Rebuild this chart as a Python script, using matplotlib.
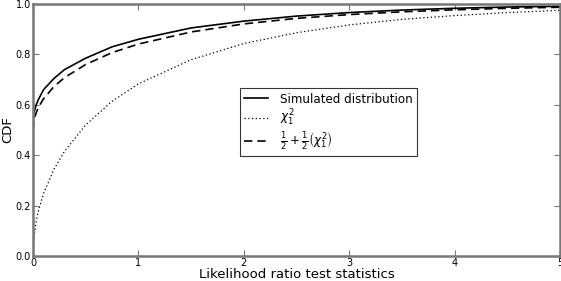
import matplotlib
matplotlib.use("Agg")
import matplotlib.pyplot as plt

# values
x_vals = [0.0, 0.01, 0.03, 0.05, 0.1, 0.2, 0.3, 0.5, 0.75, 1.0, 1.5, 2.0, 2.5, 3.0, 3.5, 4.0, 4.5, 5.0]
simulated = [0.52, 0.57, 0.60, 0.62, 0.66, 0.705, 0.74, 0.785, 0.83, 0.86, 0.905, 0.932, 0.952, 0.966, 0.976, 0.983, 0.988, 0.991]
chi2 = [0.0, 0.080, 0.137, 0.177, 0.248, 0.345, 0.416, 0.520, 0.614, 0.683, 0.779, 0.843, 0.886, 0.917, 0.939, 0.954, 0.966, 0.975]
mixture = [0.5, 0.540, 0.568, 0.589, 0.624, 0.673, 0.708, 0.760, 0.807, 0.841, 0.889, 0.921, 0.943, 0.958, 0.969, 0.977, 0.983, 0.987]

labels = ["Simulated distribution", r"$\chi_1^2$", r"$\frac{1}{2}+\frac{1}{2}\left(\chi_1^2\right)$"]
x_ticks = [0, 1, 2, 3, 4, 5]
y_ticks = [0.0, 0.2, 0.4, 0.6, 0.8, 1.0]

fig = plt.figure(figsize=(5.61, 2.81), dpi=100)
ax = fig.add_axes([33/561, 25/281, 527/561, 252/281])

ax.plot(x_vals, simulated, color="black", lw=1.2, ls="-", label=labels[0])
ax.plot(x_vals, chi2, color="black", lw=0.9, ls=(0, (1, 2)), label=labels[1])
ax.plot(x_vals, mixture, color="black", lw=1.2, ls=(0, (5, 3)), label=labels[2])

ax.set_xlim(0, 5)
ax.set_ylim(0, 1)
ax.set_xticks(x_ticks)
ax.set_xticklabels([str(t) for t in x_ticks])
ax.set_yticks(y_ticks)
ax.set_yticklabels([f"{t:.1f}" for t in y_ticks])
ax.tick_params(direction="in", length=4, width=0.8, color="#777777", labelsize=7,
               top=True, right=True, pad=1.5)
for s in ax.spines.values():
    s.set_color("#777777")
    s.set_linewidth(1.8)

ax.set_xlabel("Likelihood ratio test statistics", fontsize=9.5, labelpad=0)
ax.set_ylabel("CDF", fontsize=9.5, labelpad=1)

leg = ax.legend(loc="center", bbox_to_anchor=(0.56, 0.53), fontsize=8.6, frameon=True,
                fancybox=False, edgecolor="black", handlelength=2.0, borderpad=0.35,
                labelspacing=0.2, handletextpad=1.0)
leg.get_frame().set_linewidth(0.8)

fig.savefig("out.png", dpi=100)
